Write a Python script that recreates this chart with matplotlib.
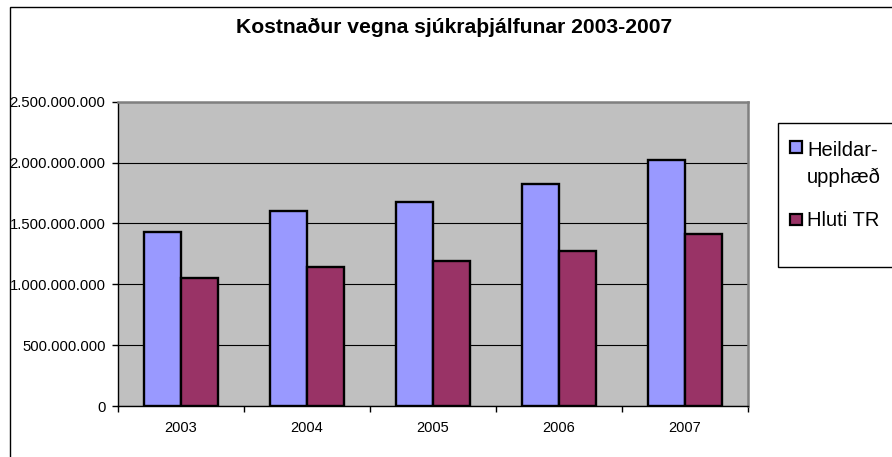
import matplotlib
matplotlib.use("Agg")
import matplotlib.pyplot as plt
from matplotlib.patches import Rectangle
from matplotlib.ticker import FuncFormatter, FixedLocator, MultipleLocator
import numpy as np

plt.rcParams['font.family'] = ['Liberation Sans', 'DejaVu Sans']

title = "Kostnaður vegna sjúkraþjálfunar 2003-2007"
years = ["2003", "2004", "2005", "2006", "2007"]
heildar = [1.428e9, 1.598e9, 1.672e9, 1.826e9, 2.023e9]
hluti_tr = [1.055e9, 1.146e9, 1.192e9, 1.275e9, 1.417e9]
series_names = ["Heildar-\nupphæð", "Hluti TR"]
colors = ["#9999FF", "#993366"]

W, H = 892, 457
fig = plt.figure(figsize=(W / 100, H / 100), dpi=100)

def fx(px):
    return px / W

def fy(py):
    return 1 - py / H

# outer chart frame
fig.patches.append(Rectangle((fx(9.5), fy(470)), fx(900), fy(7) - fy(470),
                             transform=fig.transFigure, fill=False,
                             edgecolor="black", linewidth=1.0, zorder=0))

ax = fig.add_axes([fx(118), fy(406), fx(748) - fx(118), fy(101.7) - fy(406)])
ax.set_facecolor("#C0C0C0")

x = np.arange(len(years))
bw = 0.29
ax.bar(x - bw / 2, heildar, width=bw, color=colors[0], edgecolor="black",
       linewidth=1.7, zorder=3, label=series_names[0])
ax.bar(x + bw / 2, hluti_tr, width=bw, color=colors[1], edgecolor="black",
       linewidth=1.7, zorder=3, label=series_names[1])

ax.set_xlim(-0.5, len(years) - 0.5)
ax.set_ylim(0, 2.5e9)
ax.yaxis.set_major_locator(MultipleLocator(5e8))
ax.yaxis.set_major_formatter(FuncFormatter(lambda v, p: f"{int(round(v)):,}".replace(",", ".")))
ax.grid(axis="y", color="black", linewidth=0.8, zorder=1)
ax.set_axisbelow(True)

ax.set_xticks(x)
ax.set_xticklabels(years)
ax.xaxis.set_minor_locator(FixedLocator(np.arange(-0.5, len(years), 1.0)))
ax.tick_params(axis="x", which="major", length=0, pad=10.5, labelsize=10.5)
ax.tick_params(axis="x", which="minor", length=4, width=1, color="black", direction="out")
ax.tick_params(axis="y", length=4, width=1, pad=5, labelsize=10.7, direction="out")

for s in ["left", "bottom"]:
    ax.spines[s].set_color("black")
    ax.spines[s].set_linewidth(1.0)
for s in ["top", "right"]:
    ax.spines[s].set_color("#808080")
    ax.spines[s].set_linewidth(1.8)

fig.text(fx(454), fy(27), title, ha="center", va="center",
         fontsize=15.2, fontweight="bold")

# legend box
fig.patches.append(Rectangle((fx(778), fy(267)), fx(900) - fx(778), fy(123) - fy(267),
                             transform=fig.transFigure, fill=True, facecolor="white",
                             edgecolor="black", linewidth=1.0, zorder=1))
# legend entries: (square top, square bottom) and text baselines
leg_squares = [(141.5, 153), (213.5, 225)]
leg_lines = [[("Heildar-", 156), ("upphæð", 183)], [("Hluti TR", 226)]]
for i, name in enumerate(series_names):
    top, bot = leg_squares[i]
    fig.patches.append(Rectangle((fx(789.5), fy(bot)), fx(801.5) - fx(789.5), fy(top) - fy(bot),
                                 transform=fig.transFigure, facecolor=colors[i],
                                 edgecolor="black", linewidth=1.6, zorder=2))
    for txt, base in leg_lines[i]:
        fig.text(fx(807), fy(base), txt, ha="left", va="baseline", fontsize=14.5, zorder=3)

fig.savefig("out.png", dpi=100)
